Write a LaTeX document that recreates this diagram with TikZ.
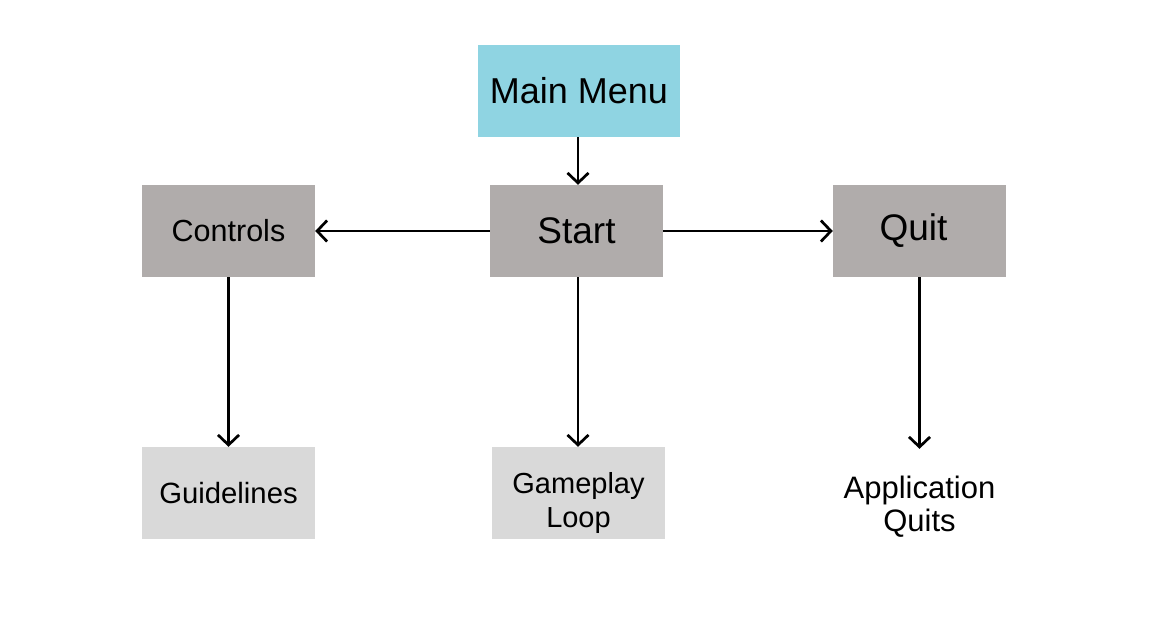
\documentclass[tikz,border=0pt]{standalone}
\usepackage{fontspec}
\setmainfont{Liberation Sans}
\usetikzlibrary{arrows.meta}
\definecolor{menucyan}{RGB}{143,212,226}
\definecolor{midgray}{RGB}{176,172,171}
\definecolor{lightgray}{RGB}{217,217,217}
\begin{document}
\begin{tikzpicture}[x=1pt,y=-1pt,
  box/.style={minimum width=173pt,minimum height=92pt,inner sep=0pt,align=center},
  conn/.style={line width=2.7pt,-{Straight Barb[length=10pt,width=21pt,line width=2.7pt]}}]
\useasboundingbox (0,0) rectangle (1158,619);
\node[box,fill=menucyan,minimum width=202pt,font=\fontsize{36}{42}\selectfont] (menu) at (579,91) {Main Menu};
\node[box,fill=midgray,font=\fontsize{37}{42}\selectfont] (start) at (576.5,231) {Start};
\node[box,fill=midgray,font=\fontsize{30.5}{36}\selectfont] (controls) at (228.5,231) {Controls};
\node[box,fill=midgray,font=\fontsize{37}{42}\selectfont] (quit) at (919.5,231) {\hspace*{-12pt}Quit};
\node[box,fill=lightgray,font=\fontsize{29.3}{34}\selectfont] (guide) at (228.5,493) {Guidelines};
\node[box,fill=lightgray,font=\fontsize{29}{34}\selectfont] (game) at (578.5,493) {\begin{tabular}{@{}c@{}}\rule{0pt}{46pt}Gameplay\\Loop\end{tabular}};
\node[box,minimum height=116pt,font=\fontsize{31}{33}\selectfont] (aq) at (919.5,507) {Application\\Quits};
\draw[conn] ([xshift=1.5pt]start.north |- menu.south) -- ([xshift=1.5pt]start.north);
\draw[conn] (start.west) -- (controls.east);
\draw[conn] (start.east) -- (quit.west);
\draw[conn] (controls.south) -- (guide.north);
\draw[conn] ([xshift=1.5pt]start.south) -- ([xshift=1.5pt]start.south |- game.north);
\draw[conn] (quit.south) -- (aq.north);
\end{tikzpicture}
\end{document}
